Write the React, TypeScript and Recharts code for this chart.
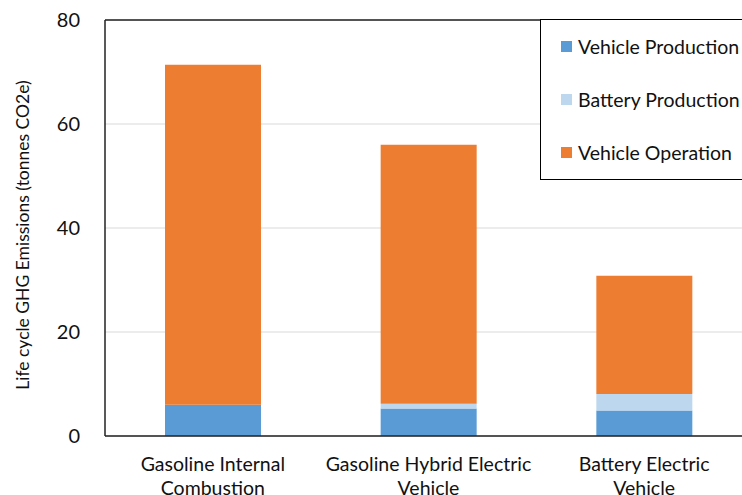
import React from 'react';
import { BarChart, Bar, XAxis, YAxis, CartesianGrid, Legend, ReferenceLine } from 'recharts';

const categories = [
  'Gasoline Internal\nCombustion',
  'Gasoline Hybrid Electric\nVehicle',
  'Battery Electric\nVehicle',
];
const vehicleProduction = [6.0, 5.3, 4.9];
const batteryProduction = [0, 0.9, 3.2];
const vehicleOperation = [65.4, 49.8, 22.7];
const yTicks = [0, 20, 40, 60, 80];

const series = [
  { key: 'vehicleProduction', name: 'Vehicle Production', color: '#5B9BD5' },
  { key: 'batteryProduction', name: 'Battery Production', color: '#BDD7EE' },
  { key: 'vehicleOperation', name: 'Vehicle Operation', color: '#ED7D31' },
];

const data = categories.map((name, i) => ({
  name,
  vehicleProduction: vehicleProduction[i],
  batteryProduction: batteryProduction[i],
  vehicleOperation: vehicleOperation[i],
}));

const FONT = 'Lato, "Open Sans", sans-serif';

const CategoryTick = ({ x, y, payload }: any) => {
  const lines = String(payload.value).split('\n');
  return (
    <text x={x} y={y} textAnchor="middle" fill="#111" fontSize={19.5} fontFamily={FONT}>
      {lines.map((line, i) => (
        <tspan key={i} x={x} dy={i === 0 ? 35 : 24}>
          {line}
        </tspan>
      ))}
    </text>
  );
};

const LegendBox = () => (
  <div
    style={{
      position: 'relative',
      width: 240,
      height: 161,
      boxSizing: 'border-box',
      border: '1.5px solid #000',
      background: '#fff',
      fontFamily: FONT,
      fontSize: 19.5,
      color: '#111',
    }}
  >
    {series.map((s, i) => (
      <div
        key={s.key}
        style={{ position: 'absolute', left: 20, top: 13 + i * 53, height: 26, display: 'flex', alignItems: 'center', whiteSpace: 'nowrap' }}
      >
        <span style={{ width: 11, height: 11, background: s.color, marginRight: 6, display: 'inline-block' }} />
        <span>{s.name}</span>
      </div>
    ))}
  </div>
);

export default function App() {
  return (
    <div style={{ position: 'absolute', left: 0, top: 0, width: 742, height: 495, overflow: 'hidden', background: '#fff' }}>
      <BarChart width={760} height={495} data={data} margin={{ top: 20, right: 8, left: 35, bottom: 9 }}>
        <CartesianGrid vertical={false} stroke="#d9d9d9" strokeWidth={1.2} />
        <XAxis
          dataKey="name"
          tick={<CategoryTick />}
          tickLine={false}
          tickSize={0}
          tickMargin={0}
          interval={0}
          height={50}
          axisLine={{ stroke: '#222', strokeWidth: 1.5 }}
        />
        <YAxis
          domain={[0, 80]}
          ticks={yTicks}
          width={70}
          tickLine={false}
          tickSize={0}
          tickMargin={25}
          axisLine={{ stroke: '#222', strokeWidth: 1.5 }}
          tick={{ fill: '#111', fontSize: 20, fontFamily: FONT }}
          label={{
            content: () => (
              <text
                x={22}
                y={235}
                transform="rotate(-90 22 235)"
                textAnchor="middle"
                dominantBaseline="central"
                fill="#111"
                fontSize={17.5}
                fontFamily={FONT}
              >
                Life cycle GHG Emissions (tonnes CO2e)
              </text>
            ),
          }}
        />
        <ReferenceLine y={80} stroke="#222" strokeWidth={1.5} />
        {series.map((s) => (
          <Bar key={s.key} dataKey={s.key} name={s.name} stackId="a" fill={s.color} barSize={96} isAnimationActive={false} />
        ))}
        <Legend
          layout="vertical"
          align="center"
          verticalAlign="middle"
          content={<LegendBox />}
          wrapperStyle={{ left: 540, top: 19, width: 240, height: 161 }}
        />
      </BarChart>
    </div>
  );
}
